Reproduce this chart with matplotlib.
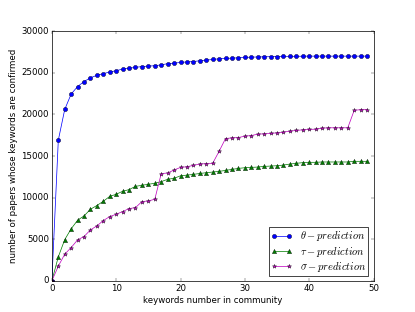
import matplotlib
matplotlib.use("Agg")
import matplotlib.pyplot as plt
import numpy as np

plt.style.use('classic')

community_size = np.arange(50)

theta_pred = [0, 16900, 20600, 22450, 23350, 23950, 24400, 24700, 24900, 25100,
              25250, 25450, 25550, 25650, 25750, 25800, 25850, 25950, 26100, 26150,
              26250, 26300, 26350, 26450, 26520, 26600, 26680, 26720, 26760, 26800,
              26840, 26880, 26900, 26920, 26940, 26950, 26960, 26970, 26980, 26990,
              27000, 27000, 27000, 27000, 27000, 27000, 27000, 27000, 27000, 27000]

tau_pred = [0, 2880, 4950, 6250, 7280, 7800, 8600, 9050, 9560, 10150,
            10400, 10760, 10960, 11350, 11480, 11600, 11720, 11920, 12200, 12320,
            12620, 12700, 12790, 12900, 12990, 13070, 13150, 13270, 13390, 13510,
            13590, 13630, 13670, 13750, 13790, 13830, 13910, 14030, 14120, 14200,
            14240, 14240, 14280, 14280, 14280, 14280, 14280, 14360, 14360, 14360]

sigma_pred = [0, 1760, 3200, 4000, 4920, 5320, 6120, 6600, 7240, 7720,
              8000, 8320, 8680, 8800, 9520, 9600, 9800, 12880, 12960, 13320,
              13630, 13710, 13870, 14040, 14080, 14120, 15570, 17100, 17180, 17220,
              17380, 17460, 17620, 17670, 17710, 17790, 17870, 17990, 18070, 18150,
              18190, 18230, 18350, 18390, 18390, 18390, 18390, 20490, 20570, 20570]

fig = plt.figure(figsize=(8, 6.0145), dpi=51.875)
ax = fig.add_subplot(111)

ax.plot(community_size, theta_pred, 'b-o', label=r'$\theta-prediction$')
ax.plot(community_size, tau_pred, 'g-^', label=r'$\tau-prediction$')
ax.plot(community_size, sigma_pred, 'm-*', label=r'$\sigma-prediction$')

ax.set_xlim(0, 50)
ax.set_ylim(0, 30000)
ax.set_xlabel('keywords number in community')
ax.set_ylabel('number of papers whose keywords are confirmed')
ax.legend(loc='lower right', labelspacing=0.1, borderpad=0.2)

fig.savefig('out.png', dpi=51.875, facecolor='white')
